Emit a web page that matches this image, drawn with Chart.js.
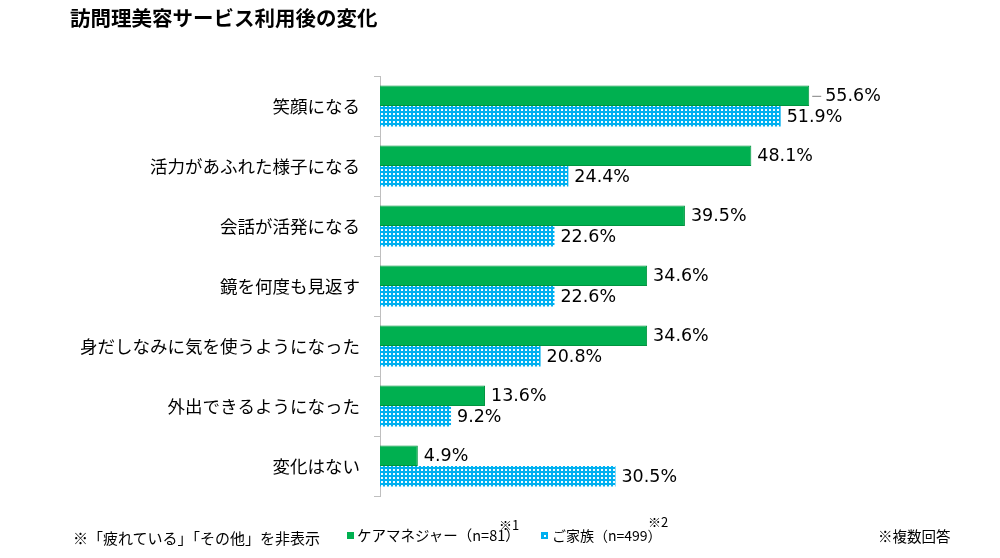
<!DOCTYPE html>
<html><head><meta charset="utf-8">
<script src="https://cdn.jsdelivr.net/npm/chart.js@4"></script>
<style>
html,body{margin:0;padding:0;background:#fff;}
#wrap{position:relative;width:1000px;height:558px;font-family:"Noto Sans CJK JP",sans-serif;color:#000;}
canvas{position:absolute;left:0;top:0;}
.t{position:absolute;white-space:nowrap;line-height:1;}
.sq{position:absolute;width:7px;height:7px;}
</style></head>
<body><div id="wrap">
<canvas id="c" width="1000" height="558"></canvas>
<div class="t" style="left:70px;top:7px;font-size:20.5px;font-weight:bold;">訪問理美容サービス利用後の変化</div>
<div class="t" style="left:73px;top:530px;font-size:15px;">※「疲れている」「その他」を非表示</div>
<div class="sq" style="left:347px;top:532px;background:#00b050"></div>
<div class="t" style="left:357px;top:528px;font-size:14.5px;" id="lg1"></div>
<div class="t" style="left:499px;top:518px;font-size:13px;">※1</div>
<div class="sq" style="left:541px;top:532px;background:#00b0f0"><div style="position:absolute;left:3px;top:3px;width:2px;height:2px;background:#fff"></div></div>
<div class="t" style="left:552px;top:528px;font-size:14px;" id="lg2"></div>
<div class="t" style="left:648px;top:515px;font-size:13px;">※2</div>
<div class="t" style="left:878px;top:529px;font-size:14.5px;">※複数回答</div>
</div>
<script>
const categories = ["笑顔になる","活力があふれた様子になる","会話が活発になる","鏡を何度も見返す","身だしなみに気を使うようになった","外出できるようになった","変化はない"];
const careManager = [55.6,48.1,39.5,34.6,34.6,13.6,4.9];
const family = [51.9,24.4,22.6,22.6,20.8,9.2,30.5];
const seriesNames = ["ケアマネジャー（n=81）","ご家族（n=499）"];

document.getElementById('lg1').textContent=seriesNames[0];
document.getElementById('lg2').textContent=seriesNames[1];

function dotPattern(){
  const p=document.createElement('canvas');p.width=4;p.height=4;
  const g=p.getContext('2d');
  g.fillStyle='#00b0f0';g.fillRect(0,0,4,4);
  g.fillStyle='rgba(255,255,255,0.95)';g.fillRect(1,1,2,2);
  return g.createPattern(p,'repeat');
}
const ctx=document.getElementById('c').getContext('2d');
const labelPlugin={
  id:'vals',
  afterDatasetsDraw(chart){
    const c=chart.ctx;
    c.save();
    c.font='17.5px "DejaVu Sans"';
    c.fillStyle='#000';
    c.textBaseline='middle';
    chart.data.datasets.forEach((ds,di)=>{
      const meta=chart.getDatasetMeta(di);
      meta.data.forEach((bar,i)=>{
        const v=ds.data[i];
        let x=bar.x+6;
        if(di===0&&i===0){
          c.strokeStyle='#808080';c.lineWidth=1;
          c.beginPath();c.moveTo(bar.x+3,bar.y+0.5);c.lineTo(bar.x+12,bar.y+0.5);c.stroke();
          x=bar.x+16;
        }
        c.fillText(v.toFixed(1)+'%',x,bar.y+1);
      });
    });
    c.restore();
  }
};
new Chart(ctx,{
  type:'bar',
  data:{labels:categories,datasets:[
    {label:seriesNames[0],data:careManager,backgroundColor:'#00b050',borderColor:'#00943f',borderWidth:1,barPercentage:1,categoryPercentage:0.68},
    {label:seriesNames[1],data:family,backgroundColor:dotPattern(),borderColor:'#4fc6f3',borderWidth:0,barPercentage:1,categoryPercentage:0.68}
  ]},
  options:{
    indexAxis:'y',responsive:false,animation:false,
    layout:{padding:{left:0,top:76,bottom:62,right:41}},
    plugins:{legend:{display:false},tooltip:{enabled:false}},
    scales:{
      x:{display:false,min:0,max:75},
      y:{
        afterFit(s){s.width=380;},
        grid:{drawOnChartArea:false,tickLength:6,color:'#bfbfbf',offset:true},
        border:{color:'#bfbfbf'},
        ticks:{color:'#000',padding:14,font:{family:'"Noto Sans CJK JP"',size:17.5}}
      }
    }
  },
  plugins:[labelPlugin]
});
</script>
</body></html>
